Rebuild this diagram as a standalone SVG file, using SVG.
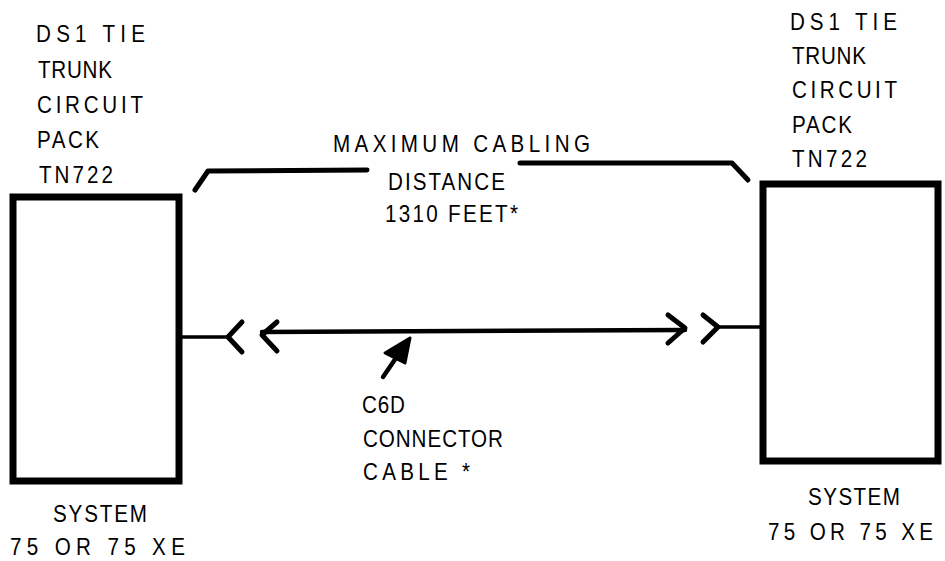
<svg xmlns="http://www.w3.org/2000/svg" width="945" height="561" viewBox="0 0 945 561">
<style>
text{font-family:"Liberation Sans","DejaVu Sans",sans-serif;font-size:24px;fill:#000}
.box{fill:#fff;stroke:#000;stroke-width:7}
.ln{fill:none;stroke:#000;stroke-linecap:round;stroke-linejoin:round}
</style>
<rect width="945" height="561" fill="#fff"/>
<g id="left-pack">
<rect class="box" x="13" y="197" width="166" height="284"/>
<text transform="translate(36,42) scale(.86,1)" textLength="126.7" lengthAdjust="spacing">DS1  TIE</text>
<text transform="translate(38,78) scale(.86,1)" textLength="86" lengthAdjust="spacing">TRUNK</text>
<text transform="translate(37,113) scale(.86,1)" textLength="123.3" lengthAdjust="spacing">CIRCUIT</text>
<text transform="translate(37,148) scale(.86,1)" textLength="72.1" lengthAdjust="spacing">PACK</text>
<text transform="translate(39,183) scale(.86,1)" textLength="86" lengthAdjust="spacing">TN722</text>
<text transform="translate(53,522) scale(.86,1)" textLength="109.3" lengthAdjust="spacing">SYSTEM</text>
<text transform="translate(10,555) scale(.86,1)" textLength="203.5" lengthAdjust="spacing">75 OR 75 XE</text>
</g>
<g id="right-pack">
<rect class="box" x="763" y="184" width="175" height="277"/>
<text transform="translate(790,30) scale(.86,1)" textLength="124.4" lengthAdjust="spacing">DS1  TIE</text>
<text transform="translate(792,64) scale(.86,1)" textLength="86" lengthAdjust="spacing">TRUNK</text>
<text transform="translate(792,98) scale(.86,1)" textLength="122.1" lengthAdjust="spacing">CIRCUIT</text>
<text transform="translate(792,133) scale(.86,1)" textLength="69.8" lengthAdjust="spacing">PACK</text>
<text transform="translate(792,167) scale(.86,1)" textLength="87.2" lengthAdjust="spacing">TN722</text>
<text transform="translate(808,505) scale(.86,1)" textLength="107" lengthAdjust="spacing">SYSTEM</text>
<text transform="translate(768,540) scale(.86,1)" textLength="191.9" lengthAdjust="spacing">75 OR 75 XE</text>
</g>
<g id="distance-label">
<text transform="translate(333,152) scale(.86,1)" textLength="298.8" lengthAdjust="spacing">MAXIMUM CABLING</text>
<text transform="translate(388,190) scale(.86,1)" textLength="136" lengthAdjust="spacing">DISTANCE</text>
<text transform="translate(385,222) scale(.86,1)" textLength="154.7" lengthAdjust="spacing">1310 FEET*</text>
</g>
<g id="cable-label">
<text transform="translate(362,413) scale(.86,1)" textLength="50" lengthAdjust="spacing">C6D</text>
<text transform="translate(363,447) scale(.86,1)" textLength="162.8" lengthAdjust="spacing">CONNECTOR</text>
<text transform="translate(363,480) scale(.86,1)" textLength="124.4" lengthAdjust="spacing">CABLE  *</text>
</g>
<g id="connectors">
<polyline class="ln" stroke-width="5" points="195,190 208,171 367,170"/>
<polyline class="ln" stroke-width="5" points="520,163 732,163 748,180"/>
<line class="ln" stroke-width="3.5" x1="180" y1="337" x2="228" y2="337"/>
<polyline class="ln" stroke-width="5" points="242,322 228,337 242,352"/>
<polyline class="ln" stroke-width="5" points="277,322 262,335 277,351"/>
<line class="ln" stroke-width="4.5" x1="262" y1="332" x2="685" y2="330"/>
<polyline class="ln" stroke-width="5" points="668,315 685,328 668,343"/>
<polyline class="ln" stroke-width="5" points="703,315 718,327 703,342"/>
<line class="ln" stroke-width="3.5" x1="718" y1="327" x2="763" y2="327"/>
<line class="ln" stroke-width="4.5" x1="383" y1="377" x2="398" y2="355"/>
<polygon points="410,338 385,353 405,363" fill="#000" stroke="#000" stroke-width="3" stroke-linejoin="round"/>
</g>
</svg>
